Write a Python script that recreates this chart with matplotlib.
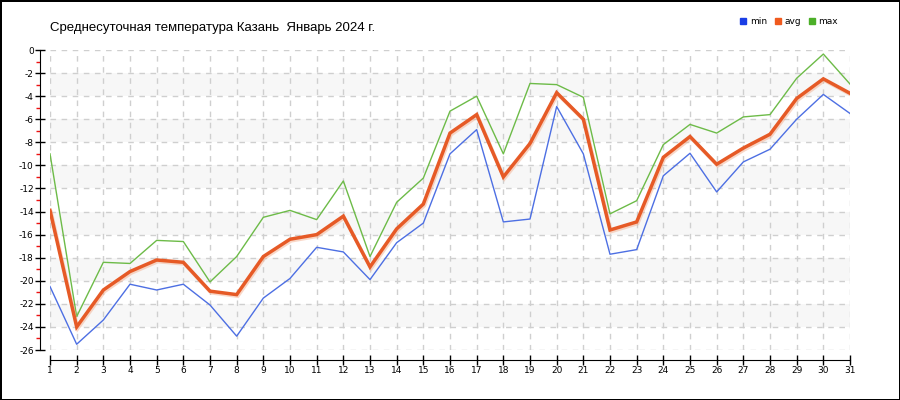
import matplotlib
matplotlib.use("Agg")
import matplotlib.pyplot as plt
import matplotlib.patheffects as pe
from matplotlib.lines import Line2D
import numpy as np

days = list(range(1, 32))
t_min = [-20.5, -25.5, -23.4, -20.3, -20.8, -20.3, -22.1, -24.8, -21.5, -19.8, -17.1,
         -17.5, -19.9, -16.7, -15.0, -9.0, -6.9, -14.9, -14.65, -4.9, -9.0,
         -17.7, -17.3, -10.9, -8.95, -12.3, -9.7, -8.6, -6.0, -3.85, -5.5]
t_avg = [-13.9, -24.0, -20.8, -19.2, -18.2, -18.4, -20.9, -21.2, -17.9, -16.4, -16.0,
         -14.4, -18.8, -15.5, -13.35, -7.2, -5.6, -11.0, -8.1, -3.7, -6.0,
         -15.6, -14.9, -9.3, -7.5, -9.9, -8.5, -7.3, -4.2, -2.5, -3.75]
t_max = [-9.0, -23.1, -18.4, -18.5, -16.5, -16.6, -20.1, -17.9, -14.5, -13.9, -14.7,
         -11.35, -17.9, -13.2, -11.1, -5.3, -4.0, -9.0, -2.9, -3.0, -4.1,
         -14.2, -13.06, -8.2, -6.45, -7.2, -5.8, -5.6, -2.45, -0.35, -2.95]
y_ticks = list(range(0, -27, -2))
series_names = ["min", "avg", "max"]
title = "Среднесуточная температура Казань  Январь 2024 г."

fig = plt.figure(figsize=(9, 4), dpi=100)
fig.patch.set_facecolor("white")
fig.patch.set_edgecolor("black")
fig.patch.set_linewidth(2)

ax = fig.add_axes([50/900, 50/400, 800/900, 300/400])
ax.set_xlim(1, 31)
ax.set_ylim(-26, 0)

# alternating bands
for i in range(len(y_ticks) - 1):
    if i % 2 == 1:
        ax.axhspan(y_ticks[i + 1], y_ticks[i], color="#f7f7f7", zorder=0, lw=0)

ax.set_xticks(days)
ax.set_yticks(y_ticks)
ax.set_yticks(list(range(-1, -27, -2)), minor=True)
ax.grid(True, which="major", color="#cfcfcf", linestyle=(0, (4, 4)), linewidth=1, zorder=1)

c_min = "#4d6fe3"
c_avg = "#e65a26"
c_max = "#6dbb48"
ax.plot(days, t_min, color=c_min, lw=1, zorder=3)
ax.plot(days, t_max, color=c_max, lw=1, zorder=3)
ax.plot(days, t_avg, color=c_avg, lw=2.5, zorder=4, solid_joinstyle="miter",
        path_effects=[pe.SimpleLineShadow(offset=(0.8, -1.2), shadow_color="#f4b090", alpha=0.5),
                      pe.Normal()])

for s in ["top", "right"]:
    ax.spines[s].set_visible(False)
ax.spines["left"].set_position(("outward", 7.2))
ax.spines["bottom"].set_position(("outward", 7.2))
ax.spines["left"].set_bounds(-26, 0)
ax.spines["bottom"].set_bounds(1, 31)

ax.tick_params(axis="both", which="major", direction="inout", length=7, width=1,
               color="black", labelsize=6.5, pad=1)
ax.tick_params(axis="y", which="minor", direction="out", length=3, width=1, color="#ee1111")
ax.tick_params(axis="x", which="minor", length=0)
ax.set_yticklabels([str(v) for v in y_ticks])

fig.text(50/900, 1 - 28/400, title, fontsize=9.5, family="Liberation Sans",
         va="center", ha="left")

handles = [Line2D([], [], marker="s", linestyle="none", markersize=5, color=c)
           for c in ["#1a3ee6", "#f05a1e", "#4caf28"]]
fig.legend(handles, series_names, loc="center right", bbox_to_anchor=(842/900, 1 - 22/400),
           ncol=3, frameon=False, fontsize=6.5, handlelength=0.8, handletextpad=0.3,
           columnspacing=0.8, borderpad=0)

fig.savefig("out.png", dpi=100)
